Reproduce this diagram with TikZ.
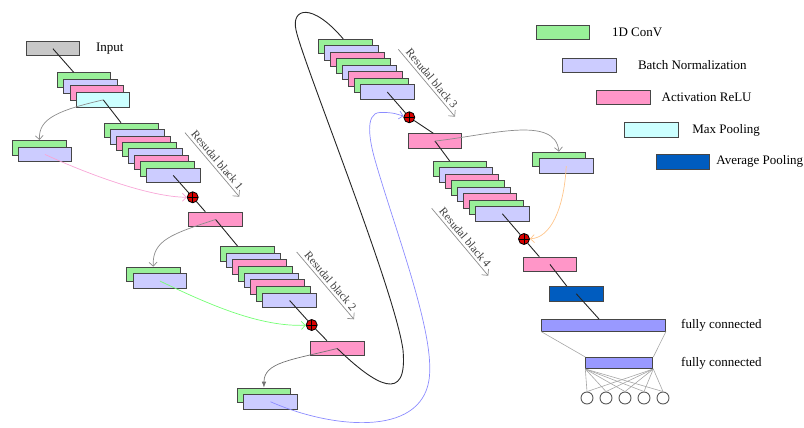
\documentclass[tikz,border=0pt]{standalone}
\usepackage{fontspec}
\setmainfont{Liberation Serif}
\usetikzlibrary{positioning,calc,arrows.meta}

\definecolor{convcol}{RGB}{153,240,153}
\definecolor{bncol}{RGB}{204,204,255}
\definecolor{relucol}{RGB}{255,150,200}
\definecolor{maxcol}{RGB}{204,255,255}
\definecolor{avgcol}{RGB}{0,92,191}
\definecolor{fccol}{RGB}{153,153,255}
\definecolor{incol}{RGB}{200,200,200}
\definecolor{edgecol}{RGB}{70,70,70}

\begin{document}
\begin{tikzpicture}[x=1pt, y=-1pt,
    layer/.style={draw=edgecol, line width=1pt, minimum width=53.5pt, minimum height=14.5pt, inner sep=0pt, anchor=north west},
    conv/.style={layer, fill=convcol},
    bn/.style={layer, fill=bncol},
    relu/.style={layer, fill=relucol},
    maxp/.style={layer, fill=maxcol},
    avgp/.style={layer, fill=avgcol},
    inbox/.style={layer, fill=incol},
    fc/.style={layer, fill=fccol, minimum height=11.5pt},
    addop/.style={circle, draw=black, fill=red!85!black, minimum size=11pt, inner sep=0pt, line width=0.8pt,
      path picture={\draw[line width=0.9pt] (path picture bounding box.north) -- (path picture bounding box.south)
        (path picture bounding box.west) -- (path picture bounding box.east);}},
    outnode/.style={circle, draw=black!65, line width=0.9pt, minimum size=12pt, inner sep=0pt},
    lbl/.style={inner sep=0pt, font=\fontsize{13}{15}\selectfont},
    link/.style={draw=black!85, line width=0.9pt},
    skip/.style={line width=0.7pt, -{Straight Barb[length=4pt,width=8pt]}},
    blockarrow/.style={draw=black!45, line width=0.7pt, -{Straight Barb[length=4.5pt,width=9pt]}},
    blocktxt/.style={midway, sloped, above=1.5pt, inner sep=1pt, text=black!75, font=\fontsize{11.5}{13}\selectfont},
    fan/.style={draw=black!35, line width=0.6pt}
  ]
    \useasboundingbox (0,0) rectangle (804,428);

    \node[inbox] (in) at (25.7,41) {};
    \node[lbl, right=15.7pt of in] (inlbl) {Input};
    \foreach \k/\s in {0/conv,1/bn,2/relu,3/maxp}
      \node[\s] (s0-\k) at ({56.7+\k*6.43},{72.3+\k*6.6}) {};

    \foreach \b/\x/\y/\dx/\dy in {1/104/122.7/6/6.43, 2/220/246/6.05/6.67, 3/318.3/39/5.96/6.47, 4/432.7/161/6.05/6.43} {
      \foreach \k/\s in {0/conv,1/bn,2/relu,3/conv,4/bn,5/relu,6/conv,7/bn}
        \node[\s] (r\b-\k) at ({\x+\k*\dx},{\y+\k*\dy}) {};
    }

    \node[conv] (sc1g) at (12.3,140) {};
    \node[bn] (sc1b) at (17.7,146.7) {};
    \node[conv] (sc2g) at (126,266.7) {};
    \node[bn] (sc2b) at (132.7,273.3) {};
    \node[conv] (sc3g) at (236.7,387.7) {};
    \node[bn] (sc3b) at (243.3,394) {};
    \node[conv] (sc4g) at (531.7,151.7) {};
    \node[bn] (sc4b) at (539,158.3) {};

    \node[relu] (pk1) at (188.3,211.7) {};
    \node[relu] (pk2) at (310,340.7) {};
    \node[relu] (pk3) at (407.7,133.3) {};
    \node[relu] (pk4) at (522.7,256.7) {};
    \node[avgp] (avg) at (549,286) {};
    \node[fc, minimum width=124pt] (fc1) at (541,319) {};
    \node[fc, minimum width=67pt, minimum height=11pt] (fc2) at (585.3,357) {};
    \node[lbl, right=15pt of fc1] (fc1lbl) {fully connected};
    \node[lbl, right=27.7pt of fc2] (fc2lbl) {fully connected};
    \foreach \i/\x in {1/587,2/606,3/625,4/644,5/663}
      \node[outnode] (o\i) at (\x,398) {};

    \node[addop] (p1) at (192.7,197.3) {};
    \node[addop] (p2) at (311.7,325) {};
    \node[addop] (p3) at (409.3,117.3) {};
    \node[addop] (p4) at (524,239) {};

    \draw[link] (in.center) -- ($(s0-0.north west)+(17,0)$);
    \draw[link] (s0-3.center) -- ($(r1-0.north west)+(17,0)$);
    \draw[link] (r1-7.center) -- (p1) -- ($(pk1.north west)+(17,0)$);
    \draw[link] (pk1.center) -- ($(r2-0.north west)+(17.5,0)$);
    \draw[link] (r2-7.center) -- (p2) -- ($(pk2.north west)+(17,0)$);
    \draw[link] (pk2.center) .. controls (375,385) and (408,405) .. (403,350)
      .. controls (395,290) and (302,60) .. (296,30)
      .. controls (291,8) and (312,2) .. ($(r3-0.north west)+(25,0)$);
    \draw[link] (r3-7.center) -- (p3) -- ($(pk3.north west)+(25.6,0)$);
    \draw[link] (pk3.center) -- ($(r4-0.north west)+(17,0)$);
    \draw[link] (r4-7.center) -- (p4) -- ($(pk4.north west)+(16.6,0)$);
    \draw[link] (pk4.center) -- ($(avg.north west)+(17.7,0)$);
    \draw[link] (avg.center) -- ($(fc1.north west)+(58,0)$);

    \draw[skip, draw=black!45] (s0-3.center) .. controls (60,110) and (38,118) .. (sc1g.north);
    \draw[skip, draw=black!45] (pk1.center) .. controls (172,234) and (152,240) .. (sc2g.north);
    \draw[line width=0.7pt, draw=black!55, -{Latex[length=6pt,width=4.5pt]}] (pk2.center) .. controls (292,360) and (264,362) .. (sc3g.north);
    \draw[skip, draw=black!45] (pk3.center) .. controls (490,135) and (555,115) .. (sc4g.north);

    \draw[skip, draw=magenta!35] (sc1b.center) .. controls (90,175) and (150,197) .. (p1);
    \draw[skip, draw=green!55] (sc2b.center) .. controls (210,305) and (260,327) .. (p2);
    \draw[skip, draw=orange!45] (sc4b.center) .. controls (564,210) and (550,238) .. (p4);
    \draw[skip, draw=blue!45] (sc3b.center) .. controls (330,428) and (420,438) .. (429,380)
      .. controls (436,335) and (395,230) .. (375,160)
      .. controls (370,142.5) and (364,113) .. (380,112.5)
      .. controls (394,112) and (399,115) .. (p3);

    \coordinate (b1s) at (185,132.7);
    \coordinate (b1e) at (239.3,196.7);
    \coordinate (b2s) at (296.7,252);
    \coordinate (b2e) at (354,319.3);
    \coordinate (b3s) at (398.3,49.3);
    \coordinate (b3e) at (455,116.7);
    \coordinate (b4s) at (431.7,208.3);
    \coordinate (b4e) at (488.3,275.7);
    \draw[blockarrow] (b1s) -- node[blocktxt] (t1) {Resudal black 1} (b1e);
    \draw[blockarrow] (b2s) -- node[blocktxt] (t2) {Resudal black 2} (b2e);
    \draw[blockarrow] (b3s) -- node[blocktxt] (t3) {Resudal black 3} (b3e);
    \draw[blockarrow] (b4s) -- node[blocktxt] (t4) {Resudal black 4} (b4e);

    \draw[fan] (fc1.south west) -- (fc2.north west);
    \draw[fan] (fc1.south east) -- (fc2.north east);
    \foreach \i in {1,...,5} {
      \draw[fan] (fc2.south west) -- (o\i.north);
      \draw[fan] (fc2.south east) -- (o\i.north);
    }

    \node[conv] (lconv) at (535.7,25) {};
    \node[bn] (lbn) at (562.3,57.7) {};
    \node[relu] (lrelu) at (596,90) {};
    \node[maxp] (lmax) at (624.3,122.3) {};
    \node[avgp] (lavg) at (655.7,154) {};
    \node[lbl, right=21.7pt of lconv] (tconv) {1D ConV};
    \node[lbl, right=21pt of lbn] (tbn) {Batch Normalization};
    \node[lbl, right=11pt of lrelu] (trelu) {Activation ReLU};
    \node[lbl, right=13.4pt of lmax] (tmax) {Max Pooling};
    \node[lbl, right=6pt of lavg] (tavg) {Average Pooling};
\end{tikzpicture}
\end{document}
